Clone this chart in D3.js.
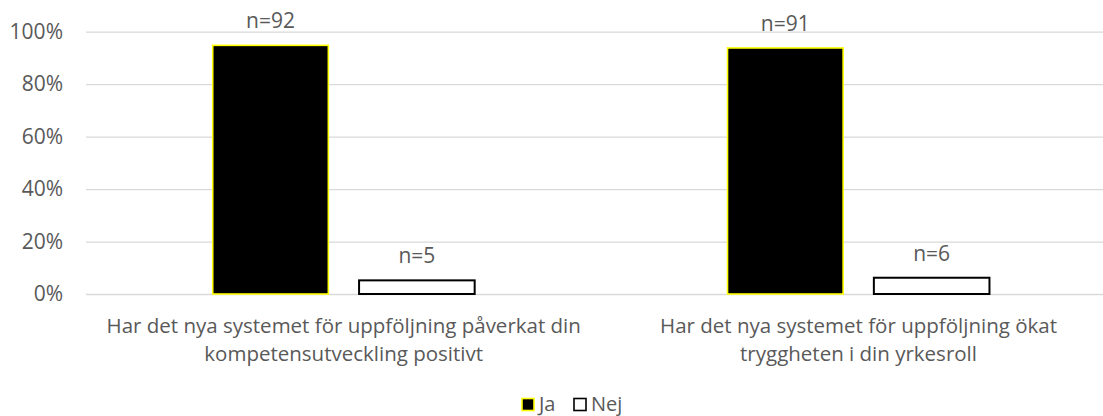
<!DOCTYPE html>
<html>
<head>
<meta charset="utf-8">
<script src="https://cdn.jsdelivr.net/npm/d3@7"></script>
<style>
  html, body { margin: 0; padding: 0; background: #fff; }
  svg { display: block; }
  text { font-family: "Open Sans", "Liberation Sans", sans-serif; fill: #595959; }
</style>
</head>
<body>
<svg id="chart" width="1103" height="416"></svg>
<script>
const categories = [
  ["Har det nya systemet för uppföljning påverkat din", "kompetensutveckling positivt"],
  ["Har det nya systemet för uppföljning ökat", "tryggheten i din yrkesroll"]
];
const seriesNames = ["Ja", "Nej"];
const jaValues = [0.948, 0.938];
const nejValues = [0.052, 0.062];
const jaCounts = ["n=92", "n=91"];
const nejCounts = ["n=5", "n=6"];
const yTicks = [0, 0.2, 0.4, 0.6, 0.8, 1.0];

const seriesStyle = {
  Ja: { fill: "#000000", stroke: "#ffff00", sw: 1.6 },
  Nej: { fill: "#ffffff", stroke: "#000000", sw: 2 }
};

const svg = d3.select("#chart");
const plotLeft = 86, plotRight = 1103;
const y = d3.scaleLinear().domain([0, 1]).range([294, 31.7]);
const x0 = d3.scaleBand().domain(d3.range(categories.length)).range([86.3, 1115.9]).padding(0);
const x1 = d3.scaleBand().domain(seriesNames).range([0, x0.bandwidth()])
  .paddingInner(0.21).paddingOuter(0.864);

// gridlines
const grid = d3.axisLeft(y).tickValues(yTicks).tickSize(-(plotRight - plotLeft)).tickFormat("");
svg.append("g").attr("transform", `translate(${plotLeft},0)`).call(grid)
  .call(g => g.select(".domain").remove())
  .call(g => g.selectAll("line").attr("stroke", "#d9d9d9").attr("stroke-width", 1.3));

// y labels
const yAxis = d3.axisLeft(y).tickValues(yTicks).tickSize(0).tickPadding(0)
  .tickFormat(d3.format(".0%"));
svg.append("g").attr("transform", `translate(63,0)`).call(yAxis)
  .call(g => g.select(".domain").remove())
  .call(g => g.selectAll("text").attr("font-size", 21).attr("fill", "#595959")
    .style("font-family", '"Open Sans", sans-serif'));

const rows = categories.map((c, i) => ({
  i,
  vals: [
    { s: "Ja", v: jaValues[i], n: jaCounts[i] },
    { s: "Nej", v: nejValues[i], n: nejCounts[i] }
  ]
}));

const groups = svg.selectAll("g.grp").data(rows).join("g")
  .attr("class", "grp")
  .attr("transform", d => `translate(${x0(d.i)},0)`);

groups.selectAll("rect").data(d => d.vals).join("rect")
  .attr("x", d => x1(d.s))
  .attr("y", d => y(d.v))
  .attr("width", x1.bandwidth())
  .attr("height", d => y(0) - y(d.v))
  .attr("fill", d => seriesStyle[d.s].fill)
  .attr("stroke", d => seriesStyle[d.s].stroke)
  .attr("stroke-width", d => seriesStyle[d.s].sw);

groups.selectAll("text.n").data(d => d.vals).join("text")
  .attr("class", "n")
  .attr("x", d => x1(d.s) + x1.bandwidth() / 2)
  .attr("y", d => y(d.v) - 17)
  .attr("text-anchor", "middle")
  .attr("font-size", 21)
  .text(d => d.n);

// category labels
const xl = svg.append("g");
categories.forEach((lines, i) => {
  const cx = x0(i) + x0.bandwidth() / 2;
  const t = xl.append("text")
    .attr("x", cx)
    .attr("y", 332.5)
    .attr("text-anchor", "middle")
    .attr("font-size", 20.5);
  lines.forEach((ln, k) => {
    t.append("tspan").attr("x", cx).attr("dy", k === 0 ? 0 : 28).text(ln);
  });
});

// legend
const legend = svg.append("g");
const legendX = [522, 574];
seriesNames.forEach((s, i) => {
  legend.append("rect")
    .attr("x", legendX[i]).attr("y", 398.5)
    .attr("width", 12).attr("height", 12)
    .attr("fill", seriesStyle[s].fill)
    .attr("stroke", seriesStyle[s].stroke)
    .attr("stroke-width", 1.6);
  legend.append("text")
    .attr("x", legendX[i] + 17).attr("y", 410.5)
    .attr("font-size", 20)
    .text(s);
});
</script>
</body>
</html>
